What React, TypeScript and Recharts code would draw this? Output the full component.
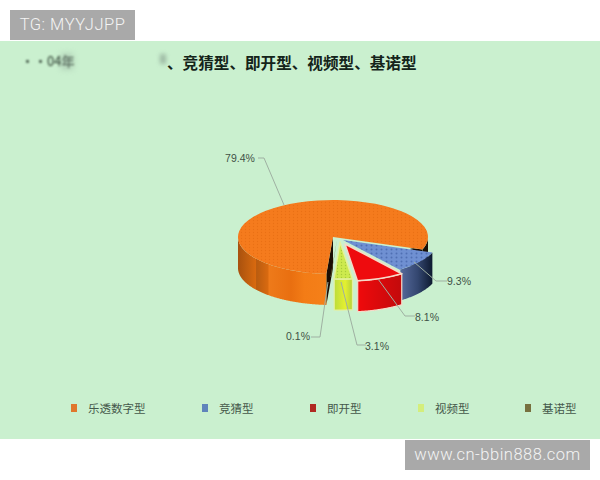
import { Cell, Legend, Pie, PieChart } from 'recharts';
import type { FC } from 'react';

const categories = ['乐透数字型', '竞猜型', '即开型', '视频型', '基诺型'];
const shares = [79.4, 9.3, 8.1, 3.1, 0.1];
const pieData = categories.map((name, i) => ({ name, value: shares[i] }));

const FILLS = ['url(#orangeDots)', 'url(#blueDots)', '#ee0b0e', 'url(#greenDots)', '#6f6a3a'];
const LEGEND_COLORS = ['#e0772c', '#5f84bb', '#b02a22', '#d4ee7c', '#77703f'];
const WALLS = ['url(#orangeWall)', 'url(#blueWall)', 'url(#redWall)', 'url(#greenWall)', '#5a5630'];
const START_FACES = ['#1a0d04', 'none', 'none', 'none', 'none'];
const END_FACES = ['url(#orangeCut)', 'none', 'none', 'none', 'none'];
const EDGES = ['none', 'none', '#f6d9c8', '#e4f0a0', 'none'];
// how far each slice is pulled out of the pie
const EXPLODE = [[0, 0], [10, 3], [12, 7], [7, 5], [4, 3]];

const SQUASH = 0.39;
const DEPTH = 31;
const RAD = Math.PI / 180;

const LEGEND_X = [71, 202, 310, 418, 525];
const LABELS = [
  { x: 240, y: 158, line: '258,158 264,158 284,205' },
  { x: 459, y: 281, line: '414,262 436,281 447,281' },
  { x: 427, y: 317, line: '378,279 405,316 415,316' },
  { x: 377, y: 346, line: '341,282 357,345 366,345' },
  { x: 298, y: 336, line: '328,282 320,337 311,337' },
];

const Slice3D = (props: any) => {
  const { cx, cy, outerRadius: R, startAngle, endAngle, payload } = props;
  const i = categories.indexOf(payload.name);
  const [dx, dy] = EXPLODE[i];
  const ox = cx + dx;
  const oy = cy + dy;
  const pt = (a: number, h = 0) =>
    `${ox + R * Math.cos(a * RAD)},${oy - R * SQUASH * Math.sin(a * RAD) + h}`;

  // front facing runs of the rim
  const step = startAngle > endAngle ? -1 : 1;
  const runs: number[][] = [];
  let run: number[] = [];
  for (let a = startAngle; step < 0 ? a >= endAngle : a <= endAngle; a += step * 0.5) {
    if (Math.sin(a * RAD) < 0.001) {
      run.push(a);
    } else if (run.length) {
      runs.push(run);
      run = [];
    }
  }
  if (run.length) runs.push(run);

  const large = Math.abs(startAngle - endAngle) > 180 ? 1 : 0;
  const apex = `${ox},${oy}`;
  const apexLow = `${ox},${oy + DEPTH}`;
  const top = `M${apex} L${pt(startAngle)} A${R},${R * SQUASH} 0 ${large} 1 ${pt(endAngle)} Z`;

  return (
    <g>
      <polygon points={`${apex} ${pt(startAngle)} ${pt(startAngle, DEPTH)} ${apexLow}`} fill={START_FACES[i]} />
      <polygon points={`${apex} ${pt(endAngle)} ${pt(endAngle, DEPTH)} ${apexLow}`} fill={END_FACES[i]} />
      {runs.map((r, k) => (
        <polygon
          key={k}
          points={[...r.map((a) => pt(a)), ...[...r].reverse().map((a) => pt(a, DEPTH))].join(' ')}
          fill={i === 0 && k === 1 ? '#1c1006' : WALLS[i]}
          stroke={EDGES[i]}
          strokeWidth={1.2}
        />
      ))}
      <path d={top} fill={FILLS[i]} stroke={EDGES[i]} strokeWidth={1.5} strokeLinejoin="round" />
    </g>
  );
};

const SliceLabel = (props: any) => {
  const i = categories.indexOf(props.payload?.name ?? props.name);
  const pos = LABELS[i];
  return (
    <g>
      <polyline points={pos.line} fill="none" stroke="#9fb0a2" strokeWidth={1} />
      <text
        x={pos.x}
        y={pos.y}
        textAnchor="middle"
        dominantBaseline="central"
        fontSize={10.5}
        fontFamily="'Liberation Sans', sans-serif"
        fill="#3f5246"
      >
        {`${shares[i]}%`}
      </text>
    </g>
  );
};

const LegendRow = () => (
  <div style={{ position: 'relative', height: 16, width: 600 }}>
    {categories.map((name, i) => (
      <div
        key={name}
        style={{
          position: 'absolute',
          left: LEGEND_X[i],
          top: 0,
          display: 'flex',
          alignItems: 'center',
          fontFamily: "'Noto Sans CJK SC', sans-serif",
          fontSize: 11.5,
          lineHeight: '16px',
          color: '#45584b',
          whiteSpace: 'nowrap',
        }}
      >
        <span style={{ width: 6, height: 8, marginRight: 11, background: LEGEND_COLORS[i], display: 'inline-block' }} />
        {name}
      </div>
    ))}
  </div>
);

const tag = {
  position: 'absolute',
  background: '#a9a9a9',
  color: '#f4f4f4',
  fontFamily: 'Roboto, sans-serif',
  fontWeight: 300,
  fontSize: 16.5,
  letterSpacing: 0.5,
  height: 30,
  lineHeight: '30px',
  textAlign: 'center',
} as const;

const App: FC = () => (
  <div style={{ position: 'absolute', left: 0, top: 0, width: 600, height: 480, background: '#fff', overflow: 'hidden' }}>
    <div style={{ position: 'absolute', left: 0, top: 41, width: 600, height: 398, background: '#caf0cf' }} />
    <div style={{ ...tag, left: 10, top: 10, width: 125 }}>TG: MYYJJPP</div>
    <div style={{ ...tag, left: 405, top: 440, width: 185 }}>www.cn-bbin888.com</div>

    <div
      style={{
        position: 'absolute',
        left: 21,
        top: 51,
        fontFamily: "'Noto Sans CJK SC', sans-serif",
        fontSize: 13,
        lineHeight: '20px',
        color: '#26362a',
        filter: 'blur(0.8px)',
        whiteSpace: 'nowrap',
      }}
    >
      ••04年
    </div>
    <div
      style={{ position: 'absolute', left: 61, top: 54, width: 12, height: 15, background: '#8fa596', opacity: 0.5, filter: 'blur(3px)' }}
    />
    <div
      style={{ position: 'absolute', left: 160, top: 54, width: 6, height: 10, background: '#7f9587', opacity: 0.6, filter: 'blur(2px)' }}
    />
    <div
      style={{
        position: 'absolute',
        left: 167,
        top: 50,
        width: 251,
        overflow: 'hidden',
        fontFamily: "'Noto Sans CJK SC', sans-serif",
        fontWeight: 700,
        fontSize: 15.6,
        lineHeight: '24px',
        color: '#14241a',
        whiteSpace: 'nowrap',
      }}
    >
      、竞猜型、即开型、视频型、基诺型
    </div>

    <div style={{ position: 'absolute', left: 0, top: 0 }}>
      <PieChart width={600} height={480} margin={{ top: 0, right: 0, bottom: 0, left: 0 }}>
        <defs>
          <pattern id="orangeDots" width="4" height="3" patternUnits="userSpaceOnUse">
            <rect width="4" height="3" fill="#f57b1d" />
            <circle cx="1.5" cy="1.5" r="0.7" fill="#ea7014" />
          </pattern>
          <pattern id="blueDots" width="5" height="4" patternUnits="userSpaceOnUse">
            <rect width="5" height="4" fill="#6f90d2" />
            <circle cx="1.5" cy="1.5" r="1" fill="#4f6fb4" />
          </pattern>
          <pattern id="greenDots" width="4" height="3" patternUnits="userSpaceOnUse">
            <rect width="4" height="3" fill="#cdea4e" />
            <circle cx="1.5" cy="1.5" r="0.7" fill="#a9cc3a" />
          </pattern>
          <linearGradient id="orangeCut" x1="0" x2="1" y1="0" y2="0">
            <stop offset="0" stopColor="#140b04" stopOpacity={0} />
            <stop offset="0.86" stopColor="#140b04" stopOpacity={0} />
            <stop offset="0.9" stopColor="#140b04" />
            <stop offset="1" stopColor="#140b04" />
          </linearGradient>
          <linearGradient id="orangeWall" x1="0" x2="1" y1="0" y2="0">
            <stop offset="0" stopColor="#a8510e" />
            <stop offset="0.12" stopColor="#c4600f" />
            <stop offset="0.2" stopColor="#d8690f" />
            <stop offset="0.21" stopColor="#b95c10" />
            <stop offset="0.34" stopColor="#d96a10" />
            <stop offset="0.35" stopColor="#ee7a1a" />
            <stop offset="0.6" stopColor="#e96f10" />
            <stop offset="0.75" stopColor="#f37c16" />
            <stop offset="1" stopColor="#f58019" />
          </linearGradient>
          <linearGradient id="blueWall" x1="0" x2="1" y1="0" y2="0">
            <stop offset="0" stopColor="#566a9c" />
            <stop offset="0.55" stopColor="#33466f" />
            <stop offset="1" stopColor="#0e1a30" />
          </linearGradient>
          <linearGradient id="redWall" x1="0" x2="1" y1="0" y2="0">
            <stop offset="0" stopColor="#f00a0c" />
            <stop offset="1" stopColor="#c20a0c" />
          </linearGradient>
          <linearGradient id="greenWall" x1="0" x2="1" y1="0" y2="0">
            <stop offset="0" stopColor="#bcdc3c" />
            <stop offset="0.6" stopColor="#e4f030" />
            <stop offset="1" stopColor="#b4d03a" />
          </linearGradient>
        </defs>
        <Pie
          data={pieData}
          dataKey="value"
          nameKey="name"
          cx={333}
          cy={237}
          outerRadius={95}
          startAngle={-94}
          endAngle={-454}
          stroke="none"
          shape={Slice3D}
          label={SliceLabel}
          labelLine={false}
          isAnimationActive={false}
        >
          {pieData.map((entry, i) => (
            <Cell key={entry.name} fill={LEGEND_COLORS[i]} />
          ))}
        </Pie>
        <Legend content={LegendRow} wrapperStyle={{ left: 0, top: 400, width: 600 }} />
      </PieChart>
    </div>
  </div>
);

export default App;
